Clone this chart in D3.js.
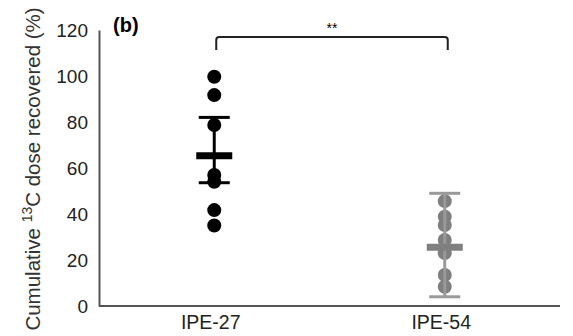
<!DOCTYPE html>
<html>
<head>
<meta charset="utf-8">
<script src="https://cdn.jsdelivr.net/npm/d3@7"></script>
<style>
  body { margin: 0; background: #fff; }
  text { font-family: "Liberation Sans", Arial, sans-serif; }
</style>
</head>
<body>
<svg width="573" height="336"></svg>
<script>
"use strict";

// values
const groups = ["IPE-27", "IPE-54"];
const ipe27 = [99.7, 91.7, 78.7, 57, 54, 41.7, 35];
const ipe54 = [45.6, 38.8, 35.2, 28.7, 23, 13.5, 8.4];
const means = [65.3, 25.5];
const errHi = [82, 49];
const errLo = [53.6, 4.0];
const yTicks = [0, 20, 40, 60, 80, 100, 120];
const dotColors = ["#000000", "#7f7f7f"];
const capColors = ["#000000", "#999999"];

window.addEventListener("load", drawGraph);

function drawGraph() {
  const svg = d3.select("svg");
  const left = 99, right = 560, top = 30, bottom = 306;

  const x = d3.scalePoint().domain(groups).range([left, right]).padding(0.5);
  const y = d3.scaleLinear().domain([0, 120]).range([bottom, top]);

  // axes, no tick marks
  const yAxis = svg.append("g")
    .attr("transform", `translate(${left},0)`)
    .call(d3.axisLeft(y).tickValues(yTicks).tickSize(0).tickPadding(11));
  yAxis.select(".domain").attr("stroke", "#555").attr("stroke-width", 2);
  yAxis.selectAll("text").style("font-size", "19px").attr("fill", "#222");

  const xAxis = svg.append("g")
    .attr("transform", `translate(0,${bottom})`)
    .call(d3.axisBottom(x).tickSize(0).tickPadding(9));
  xAxis.select(".domain").attr("stroke", "#555").attr("stroke-width", 2)
    .attr("d", `M${left},0H${right}`);
  xAxis.selectAll("text").style("font-size", "19.5px").attr("fill", "#222")
    .attr("dx", -4);

  // y label with superscript
  const lab = svg.append("text")
    .attr("transform", `translate(40,169) rotate(-90)`)
    .attr("text-anchor", "middle")
    .style("font-size", "20.5px")
    .attr("fill", "#333");
  lab.append("tspan").text("Cumulative ");
  lab.append("tspan").text("13").attr("dy", -8).style("font-size", "14px");
  lab.append("tspan").text("C dose recovered (%)").attr("dy", 8);

  svg.append("text")
    .attr("x", 113).attr("y", 32)
    .style("font-size", "20px").style("font-weight", "bold")
    .text("(b)");

  // dots
  [ipe27, ipe54].forEach((vals, i) => {
    svg.selectAll(null)
      .data(vals)
      .enter()
      .append("circle")
      .attr("cx", x(groups[i]))
      .attr("cy", (d) => y(d))
      .attr("r", 7)
      .attr("fill", dotColors[i]);
  });

  // mean and error bars
  groups.forEach((g, i) => {
    const cx = x(g);
    svg.append("line")
      .attr("x1", cx).attr("x2", cx)
      .attr("y1", y(errHi[i])).attr("y2", y(errLo[i]))
      .attr("stroke", capColors[i]).attr("stroke-width", 3);
    [errHi[i], errLo[i]].forEach((v) => {
      svg.append("line")
        .attr("x1", cx - 15.5).attr("x2", cx + 15.5)
        .attr("y1", y(v)).attr("y2", y(v))
        .attr("stroke", capColors[i]).attr("stroke-width", 3);
    });
    svg.append("line")
      .attr("x1", cx - 18).attr("x2", cx + 18)
      .attr("y1", y(means[i])).attr("y2", y(means[i]))
      .attr("stroke", dotColors[i]).attr("stroke-width", 7);
  });

  // significance bracket
  const bx1 = x(groups[0]) + 2, bx2 = x(groups[1]) + 3;
  svg.append("path")
    .attr("d", `M${bx1},50V40Q${bx1},37 ${bx1 + 3},37H${bx2 - 3}Q${bx2},37 ${bx2},40V50`)
    .attr("fill", "none").attr("stroke", "#222").attr("stroke-width", 2);
  svg.append("text")
    .attr("x", (bx1 + bx2) / 2).attr("y", 33)
    .attr("text-anchor", "middle")
    .style("font-size", "14px")
    .text("**");
}
</script>
</body>
</html>
